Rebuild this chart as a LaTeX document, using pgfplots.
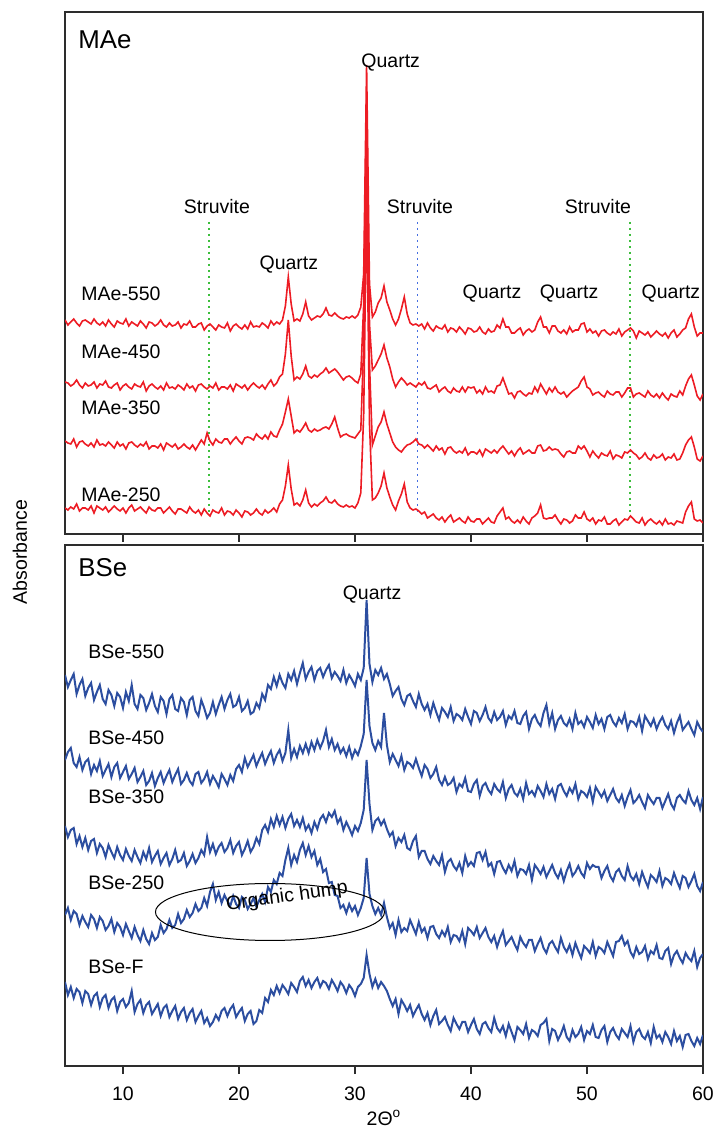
\documentclass[border=0pt]{standalone}
\usepackage{fontspec}
\setmainfont{Liberation Sans}
\usepackage{pgfplots}
\usepackage{pgfplotstable}
\pgfplotsset{compat=1.18}
\definecolor{xred}{RGB}{237,28,36}
\definecolor{xblue}{RGB}{44,78,160}
\definecolor{sgreen}{RGB}{60,190,60}
\definecolor{sblue}{RGB}{70,110,225}
\definecolor{axgray}{RGB}{45,45,45}

% top panel: x, MAe-550, MAe-450, MAe-350, MAe-250
\pgfplotstableread{
x A B C D
5.00 214 152 93 26
5.25 209 151 91 24
5.50 212 148 90 27
5.75 215 150 95 25
6.00 211 154 87 30
6.25 208 149 92 23
6.50 213 146 93 26
6.75 214 151 90 26
7.00 212 148 88 24
7.25 210 149 91 28
7.50 215 152 87 21
7.75 211 146 94 28
8.00 209 150 89 26
8.25 212 149 90 24
8.50 208 153 88 27
8.75 214 147 92 22
9.00 210 146 89 25
9.25 207 149 86 28
9.50 213 151 92 25
9.75 211 144 88 23
10.00 210 148 90 26
10.25 215 150 85 21
10.50 208 147 91 26
10.75 212 145 92 29
11.00 210 150 89 23
11.25 208 148 87 25
11.50 213 147 90 27
11.75 210 152 88 24
12.00 206 143 92 21
12.25 212 148 85 27
12.50 211 150 88 24
12.75 208 147 88 23
13.00 210 145 86 26
13.25 214 148 90 26
13.50 209 144 84 21
13.75 207 151 91 24
14.00 211 146 89 27
14.25 208 147 87 23
14.50 209 145 90 20
14.75 212 149 85 25
15.00 206 147 87 25
15.25 210 144 90 23
15.50 209 150 87 21
15.75 213 146 85 27
16.00 207 148 89 23
16.25 207 143 84 21
16.50 210 149 89 24
16.75 211 150 94 19
17.00 204 147 90 25
17.25 208 145 101 21
17.50 210 148 93 18
17.75 207 146 89 24
18.00 204 151 95 22
18.25 209 144 92 21
18.50 207 147 91 26
18.75 206 147 95 19
19.00 211 145 95 23
19.25 203 149 90 22
19.50 208 143 94 19
19.75 210 150 97 24
20.00 207 148 93 21
20.25 205 146 90 17
20.50 209 149 96 23
20.75 205 144 97 22
21.00 212 148 96 19
21.25 207 151 94 21
21.50 208 148 100 25
21.75 207 146 97 21
22.00 211 149 95 19
22.25 209 145 99 24
22.50 206 150 95 21
22.75 213 154 102 23
23.00 209 148 98 26
23.25 212 151 97 22
23.50 210 157 104 30
23.75 214 160 110 34
24.00 228 180 122 48
24.25 257 214 135 69
24.50 230 178 118 45
24.75 213 154 101 29
25.00 215 157 104 31
25.25 213 155 102 28
25.50 220 160 106 34
25.75 232 168 111 44
26.00 218 158 104 31
26.25 214 156 102 27
26.50 216 159 105 30
26.75 218 157 103 28
27.00 217 160 104 31
27.25 220 162 106 33
27.50 226 166 107 37
27.75 219 161 105 32
28.00 218 163 110 31
28.25 221 165 117 34
28.50 218 162 106 30
28.75 216 158 97 28
29.00 215 154 99 27
29.25 217 157 100 29
29.50 216 158 98 27
29.75 218 156 97 28
30.00 216 153 96 26
30.25 219 151 100 31
30.50 227 160 104 41
30.75 260 230 190 120
31.00 469 434 384 334
31.25 250 210 170 110
31.50 217 164 89 34
31.75 222 168 98 36
32.00 231 174 107 41
32.25 236 180 112 48
32.50 248 189 122 61
32.75 232 176 110 46
33.00 224 167 101 37
33.25 215 155 92 29
33.50 209 147 87 24
33.75 215 152 84 33
34.00 225 156 82 40
34.25 237 153 86 50
34.50 220 149 89 32
34.75 211 151 90 26
35.00 209 149 92 24
35.25 210 147 95 25
35.50 208 151 90 23
35.75 210 149 89 20
36.00 205 152 86 22
36.25 211 146 89 16
36.50 206 145 86 18
36.75 203 147 83 20
37.00 208 149 88 16
37.25 206 142 84 14
37.50 205 145 86 17
37.75 209 147 80 12
38.00 202 143 86 16
38.25 206 141 87 19
38.50 205 146 83 12
38.75 202 143 81 14
39.00 207 142 83 16
39.25 204 147 81 13
39.50 200 142 86 11
39.75 206 147 79 17
40.00 205 146 82 13
40.25 202 147 82 12
40.50 203 141 80 15
40.75 207 144 84 15
41.00 202 140 78 10
41.25 200 147 85 13
41.50 205 142 83 16
41.75 202 143 81 12
42.00 203 141 84 11
42.25 209 148 81 18
42.50 206 149 85 22
42.75 215 156 88 26
43.00 207 148 84 15
43.25 207 140 80 17
43.50 201 141 83 13
43.75 201 136 78 11
44.00 204 142 83 14
44.25 206 143 86 11
44.50 199 140 80 17
44.75 203 138 82 13
45.00 205 141 84 10
45.25 202 140 81 16
45.50 204 147 81 18
45.75 212 142 88 21
46.00 217 150 89 29
46.25 207 145 83 16
46.50 207 140 84 15
46.75 201 146 87 16
47.00 208 142 84 16
47.25 208 147 85 19
47.50 203 142 84 14
47.75 201 140 80 10
48.00 204 142 77 15
48.25 200 137 82 14
48.50 207 140 83 11
48.75 202 143 81 13
49.00 204 145 81 19
49.25 204 147 88 16
49.50 210 153 85 16
49.75 211 157 88 22
50.00 202 147 83 15
50.25 205 145 77 13
50.50 201 139 83 16
50.75 203 141 79 10
51.00 198 142 76 14
51.25 203 139 81 13
51.50 204 137 79 17
51.75 201 143 78 10
52.00 199 140 83 10
52.25 202 139 75 13
52.50 200 142 79 15
52.75 205 142 78 9
53.00 198 137 76 12
53.25 202 141 82 15
53.50 204 146 81 14
53.75 206 146 84 18
54.00 203 137 81 15
54.25 196 140 79 12
54.50 203 141 75 11
54.75 201 139 77 16
55.00 199 137 81 9
55.25 202 143 76 13
55.50 197 139 74 15
55.75 200 137 79 12
56.00 203 140 76 10
56.25 200 136 77 13
56.50 198 141 80 9
56.75 201 137 74 15
57.00 196 134 77 10
57.25 201 140 76 11
57.50 204 138 80 9
57.75 197 137 74 13
58.00 200 143 75 12
58.25 204 139 81 11
58.50 206 148 89 22
58.75 215 155 94 28
59.00 220 159 97 32
59.25 207 149 87 15
59.50 198 138 75 13
59.75 201 134 73 14
60.00 201 140 78 11
}\maetable

% bottom panel: x, BSe-550, BSe-450, BSe-350, BSe-250, BSe-F
\pgfplotstableread{
x E F G H I
5.00 391 306 240 151 84
5.25 379 314 229 158 71
5.50 386 318 236 146 79
5.75 392 303 238 155 68
6.00 372 299 222 152 77
6.25 381 309 230 141 74
6.50 387 296 219 150 63
6.75 370 304 228 144 75
7.00 378 307 216 139 72
7.25 383 292 225 151 61
7.50 366 301 227 147 70
7.75 374 295 213 138 73
8.00 381 305 222 149 59
8.25 367 290 218 145 68
8.50 362 296 209 136 71
8.75 376 302 221 140 58
9.00 371 289 214 147 66
9.25 360 299 208 134 69
9.50 373 303 219 143 55
9.75 369 288 211 139 64
10.00 358 294 206 131 67
10.25 374 300 217 142 59
10.50 365 287 210 135 63
10.75 381 292 205 128 75
11.00 362 298 216 139 54
11.25 357 284 209 131 62
11.50 371 289 203 125 66
11.75 368 295 214 136 53
12.00 356 281 207 127 61
12.25 363 285 218 122 64
12.50 372 293 204 133 52
12.75 360 280 210 126 57
13.00 354 288 215 129 62
13.25 369 294 202 141 50
13.50 365 283 208 133 58
13.75 352 290 213 137 61
14.00 367 296 201 146 49
14.25 371 284 207 138 55
14.50 357 291 216 141 60
14.75 355 297 204 152 47
15.00 368 282 206 143 54
15.25 364 286 213 147 58
15.50 351 293 200 156 46
15.75 366 285 205 149 53
16.00 369 281 212 153 57
16.25 355 292 203 162 44
16.50 350 294 208 155 50
16.75 366 283 216 158 55
17.00 358 287 211 168 43
17.25 348 294 229 160 48
17.50 353 282 214 174 40
17.75 364 290 222 182 44
18.00 352 285 212 166 51
18.25 361 279 219 174 46
18.50 369 292 223 163 55
18.75 357 287 214 171 58
19.00 366 281 218 165 50
19.25 372 291 226 160 57
19.50 359 285 213 170 61
19.75 361 297 220 162 49
20.00 369 301 224 158 54
20.25 355 294 211 169 58
20.50 358 308 217 166 45
20.75 365 299 225 157 52
21.00 352 305 214 162 55
21.25 354 311 219 168 42
21.50 363 300 228 159 45
21.75 358 307 222 166 56
22.00 372 313 236 172 53
22.25 366 302 241 164 68
22.50 381 309 234 179 64
22.75 377 315 247 174 76
23.00 389 303 239 186 71
23.25 380 311 250 182 80
23.50 391 316 241 193 73
23.75 383 305 249 190 81
24.00 378 313 238 206 77
24.25 392 336 247 218 72
24.50 386 308 252 201 83
24.75 395 317 240 211 79
25.00 382 309 246 204 74
25.25 393 320 239 216 85
25.50 403 313 248 223 89
25.75 387 322 236 211 80
26.00 394 313 241 220 86
26.25 399 324 233 209 78
26.50 386 316 244 215 84
26.75 395 326 237 201 88
27.00 398 318 247 207 79
27.25 389 325 251 194 85
27.50 396 336 244 197 83
27.75 401 319 253 183 77
28.00 388 327 249 184 86
28.25 394 316 255 171 81
28.50 390 322 243 170 75
28.75 385 313 248 158 84
29.00 396 318 236 161 80
29.25 383 310 244 153 73
29.50 391 319 238 162 81
29.75 386 308 231 155 77
30.00 380 316 240 160 70
30.25 392 311 235 151 79
30.50 386 320 243 158 82
30.75 398 332 256 168 88
31.00 466 386 306 208 111
31.25 402 340 262 172 92
31.50 384 323 236 160 79
31.75 396 316 245 152 87
32.00 391 325 248 158 78
32.25 398 319 241 151 84
32.50 387 353 246 163 80
32.75 392 321 237 149 75
33.00 382 304 230 138 67
33.25 370 312 234 143 60
33.50 375 306 220 131 67
33.75 379 300 228 146 52
34.00 367 310 224 134 66
34.25 361 296 231 138 61
34.50 370 304 218 135 55
34.75 372 302 216 146 61
35.00 365 298 225 139 50
35.25 359 307 230 132 56
35.50 372 298 209 144 61
35.75 362 290 215 134 52
36.00 356 301 215 138 46
36.25 362 297 207 128 53
36.50 351 288 202 139 41
36.75 363 292 210 140 50
37.00 354 299 205 132 56
37.25 346 286 201 128 42
37.50 358 281 211 135 45
37.75 354 289 194 130 49
38.00 349 281 204 139 41
38.25 359 283 207 124 35
38.50 345 288 200 131 48
38.75 352 274 196 130 42
39.00 350 282 203 125 37
39.25 346 279 193 135 44
39.50 357 288 210 122 44
39.75 349 275 200 138 34
40.00 342 274 204 135 41
40.25 355 282 200 131 47
40.50 353 286 213 139 37
40.75 345 270 214 128 32
41.00 351 280 206 133 42
41.25 359 283 214 138 44
41.50 348 276 200 129 38
41.75 344 272 203 124 34
42.00 354 282 192 130 48
42.25 346 277 204 119 38
42.50 349 274 205 128 34
42.75 355 284 198 135 40
43.00 341 268 193 121 30
43.25 350 277 201 125 42
43.50 347 281 195 129 34
43.75 355 273 205 122 26
44.00 343 270 190 116 39
44.25 342 277 197 129 36
44.50 350 267 196 123 32
44.75 354 283 192 119 42
45.00 337 272 201 126 28
45.25 347 275 186 126 36
45.50 351 270 201 115 34
45.75 344 280 197 122 30
46.00 340 275 192 128 41
46.25 353 269 199 118 43
46.50 361 282 189 113 47
46.75 342 272 195 122 25
47.00 353 277 201 125 37
47.25 337 267 193 119 35
47.50 346 280 188 114 26
47.75 350 282 196 128 32
48.00 343 275 185 119 40
48.25 340 270 195 114 29
48.50 347 278 202 121 25
48.75 337 273 190 111 36
49.00 353 282 194 123 29
49.25 342 267 200 115 32
49.50 345 275 193 108 39
49.75 339 273 189 120 26
50.00 349 269 203 117 35
50.25 344 278 197 113 32
50.50 338 264 201 124 41
50.75 351 279 199 110 29
51.00 342 274 199 119 28
51.25 347 269 188 117 36
51.50 337 275 195 113 40
51.75 349 265 200 124 24
52.00 351 271 190 117 34
52.25 344 277 185 110 38
52.50 340 268 194 124 31
52.75 348 264 197 125 27
53.00 343 271 190 130 37
53.25 352 260 186 121 33
53.50 337 269 200 125 29
53.75 345 276 190 114 40
54.00 344 263 186 109 24
54.25 340 266 192 119 34
54.50 349 271 182 112 37
54.75 335 264 194 114 30
55.00 350 258 186 120 27
55.25 345 271 179 107 34
55.50 340 266 191 115 23
55.75 347 262 188 112 39
56.00 337 268 184 121 28
56.25 344 268 195 108 31
56.50 349 258 180 107 24
56.75 341 265 188 115 34
57.00 337 272 186 118 29
57.25 345 262 182 102 22
57.50 333 257 193 111 35
57.75 343 268 185 115 25
58.00 350 271 178 108 30
58.25 336 266 190 103 19
58.50 340 263 188 113 31
58.75 344 275 179 108 32
59.00 337 266 185 105 25
59.25 331 261 192 115 20
59.50 344 268 180 99 28
59.75 338 257 175 108 22
60.00 334 269 184 112 31
}\bsetable

\pgfplotsset{
  xrd/.style={
    scale only axis, width=319pt,
    xmin=5, xmax=60, xtick={10,20,30,40,50,60},
    ytick=\empty, tick align=outside, xtick pos=left,
    major tick length=4pt,
    axis line style={axgray, line width=0.75pt},
    every tick/.style={axgray, line width=0.75pt},
    /pgf/number format/assume math mode=true,
    xticklabel style={yshift=-3pt},
  },
  struv/.style={line width=0.8pt, dash pattern=on 0.8pt off 2.2pt},
}

\begin{document}
\begin{tikzpicture}[font=\fontsize{9.75}{11.7}\selectfont]
\path[use as bounding box] (0,0) rectangle (357.5pt,564.5pt);

% ---------- top panel ----------
\begin{axis}[xrd, at={(32.5pt,297.5pt)}, anchor=south west,
  height=261pt, ymin=0, ymax=522, xticklabels={}]
  \addplot[sgreen, struv] coordinates {(17.4,312) (17.4,22)};
  \addplot[sblue, struv] coordinates {(35.4,312) (35.4,21)};
  \addplot[sgreen, struv] coordinates {(53.7,312) (53.7,17)};
  \addplot[xred, line width=0.8pt] table[x=x, y=A] {\maetable};
  \addplot[xred, line width=0.8pt] table[x=x, y=B] {\maetable};
  \addplot[xred, line width=0.8pt] table[x=x, y=C] {\maetable};
  \addplot[xred, line width=0.8pt] table[x=x, y=D] {\maetable};
  \node[anchor=west, inner sep=0pt, font=\fontsize{12.9}{15}\selectfont] at (rel axis cs:0.0204,0.946) {MAe};
  \node[anchor=west, inner sep=0pt] at (axis cs:30.52,471) {Quartz};
  \node[inner sep=0pt] at (axis cs:24.3,269) {Quartz};
  \node[inner sep=0pt] at (axis cs:18.10,327) {Struvite};
  \node[inner sep=0pt] at (axis cs:35.60,327) {Struvite};
  \node[inner sep=0pt] at (axis cs:50.95,327) {Struvite};
  \node[inner sep=0pt] at (axis cs:41.81,240) {Quartz};
  \node[inner sep=0pt] at (axis cs:48.45,240) {Quartz};
  \node[inner sep=0pt] at (axis cs:57.24,240) {Quartz};
  \node[anchor=west, inner sep=0pt] at (axis cs:6.38,240) {MAe-550};
  \node[anchor=west, inner sep=0pt] at (axis cs:6.38,182) {MAe-450};
  \node[anchor=west, inner sep=0pt] at (axis cs:6.38,126) {MAe-350};
  \node[anchor=west, inner sep=0pt] at (axis cs:6.38,39) {MAe-250};
\end{axis}

% ---------- bottom panel ----------
\begin{axis}[xrd, at={(32.5pt,31.5pt)}, anchor=south west,
  height=260.5pt, ymin=0, ymax=521,
  xlabel={2Θ\textsuperscript{o}},
  xlabel style={at={(axis description cs:0.5,0)}, anchor=center, yshift=-26pt}]
  \addplot[xblue, line width=1pt] table[x=x, y=E] {\bsetable};
  \addplot[xblue, line width=1pt] table[x=x, y=F] {\bsetable};
  \addplot[xblue, line width=1pt] table[x=x, y=G] {\bsetable};
  \addplot[xblue, line width=1pt] table[x=x, y=H] {\bsetable};
  \addplot[xblue, line width=1pt] table[x=x, y=I] {\bsetable};
  \node[anchor=west, inner sep=0pt, font=\fontsize{12.9}{15}\selectfont] at (rel axis cs:0.0204,0.956) {BSe};
  \node[inner sep=0pt] at (axis cs:31.47,471) {Quartz};
  \node[anchor=west, inner sep=0pt] at (axis cs:6.98,414) {BSe-550};
  \node[anchor=west, inner sep=0pt] at (axis cs:6.98,328) {BSe-450};
  \node[anchor=west, inner sep=0pt] at (axis cs:6.98,269) {BSe-350};
  \node[anchor=west, inner sep=0pt] at (axis cs:6.98,183) {BSe-250};
  \node[anchor=west, inner sep=0pt] at (axis cs:6.98,99) {BSe-F};
  \draw[black, line width=0.5pt] (axis cs:22.67,154) ellipse [x radius=57.25pt, y radius=14.25pt];
  \node[inner sep=0pt, rotate=8] at (axis cs:24.14,169) {Organic hump};
\end{axis}

\node[rotate=90] at (10pt,288.5pt) {Absorbance};
\end{tikzpicture}
\end{document}
